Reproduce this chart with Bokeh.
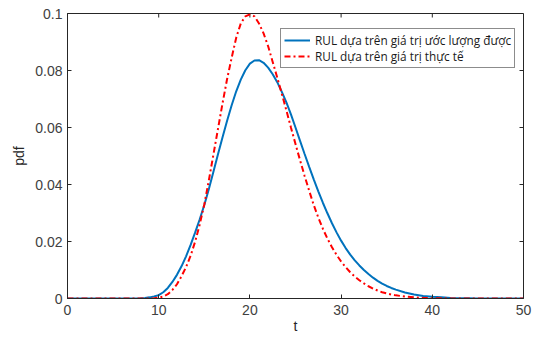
from bokeh.plotting import figure
from bokeh.models import Legend, LegendItem, FixedTicker, Range1d
from bokeh.embed import file_html
from bokeh.resources import INLINE

# ---- data ----
# sample positions: whole units in the flat tails, half units where the curves bend
t = [0, 1, 2, 3, 4, 5, 6, 7, 8,
     8.5, 9, 9.5, 10, 10.5, 11, 11.5, 12, 12.5, 13,
     13.5, 14, 14.5, 15, 15.5, 16, 16.5, 17, 17.5, 18,
     18.5, 19, 19.5, 20, 20.5, 21, 21.5, 22, 22.5, 23,
     23.5, 24, 24.5, 25, 25.5, 26, 26.5, 27, 27.5, 28,
     28.5, 29, 29.5, 30, 30.5, 31, 31.5, 32, 32.5, 33,
     33.5, 34, 34.5, 35, 35.5, 36,
     37, 38, 39, 40, 41, 42, 43, 44, 45, 46, 47, 48, 49, 50]
pdf_estimated = [0, 0, 0, 0, 0, 0, 0, 0, 0.0001,
                 0.0002, 0.0004, 0.0007, 0.0012, 0.0022, 0.0037, 0.0058, 0.0083, 0.0113, 0.0148,
                 0.0188, 0.0232, 0.0278, 0.0328, 0.0384, 0.0445, 0.0506, 0.0566, 0.0624, 0.0678,
                 0.0727, 0.0768, 0.0801, 0.0824, 0.0835, 0.0836, 0.0827, 0.0810, 0.0787, 0.0759,
                 0.0725, 0.0688, 0.0646, 0.0600, 0.0553, 0.0507, 0.0462, 0.0418, 0.0376, 0.0336,
                 0.0299, 0.0264, 0.0232, 0.0203, 0.0177, 0.0154, 0.0134, 0.0116, 0.0100, 0.0086,
                 0.0073, 0.0062, 0.0052, 0.0044, 0.0037, 0.0031,
                 0.0021, 0.0014, 0.0009, 0.0006, 0.0004, 0.0002, 0.0001, 0.0001, 0, 0, 0, 0, 0, 0]
pdf_actual = [0, 0, 0, 0, 0, 0, 0, 0, 0,
              0, 0, 0.0001, 0.0003, 0.0007, 0.0015, 0.0030, 0.0050, 0.0078, 0.0110,
              0.0150, 0.0200, 0.0260, 0.0330, 0.0415, 0.0505, 0.0595, 0.0685, 0.0770, 0.0845,
              0.0915, 0.0965, 0.0990, 0.0997, 0.0990, 0.0965, 0.0930, 0.0885, 0.0830, 0.0775,
              0.0718, 0.0660, 0.0600, 0.0542, 0.0485, 0.0430, 0.0378, 0.0328, 0.0284, 0.0245,
              0.0210, 0.0180, 0.0153, 0.0130, 0.0110, 0.0092, 0.0077, 0.0064, 0.0053, 0.0043,
              0.0035, 0.0028, 0.0022, 0.0018, 0.0014, 0.0011,
              0.0007, 0.0004, 0.0002, 0.0001, 0.0001, 0, 0, 0, 0, 0, 0, 0, 0, 0]
x_ticks = [0, 10, 20, 30, 40, 50]
y_ticks = [0, 0.02, 0.04, 0.06, 0.08, 0.1]
y_tick_labels = ["0", "0.02", "0.04", "0.06", "0.08", "0.1"]
labels = ["RUL dựa trên giá trị ước lượng được", "RUL dựa trên giá trị thực tế"]

X_MIN, X_MAX = 0, 50
Y_MIN, Y_MAX = 0, 0.1
AX = "#262626"
TICK_FONT = "Liberation Sans"

W, H = 539, 338
BL, BR, BT, BB = 67, 16, 13, 40
p = figure(width=W, height=H, output_backend="svg", toolbar_location=None,
           x_range=Range1d(X_MIN, X_MAX), y_range=Range1d(Y_MIN, Y_MAX),
           min_border_left=BL, min_border_right=BR, min_border_top=BT, min_border_bottom=BB)
p.background_fill_color = "white"
p.border_fill_color = "white"
p.outline_line_color = AX
p.outline_line_width = 1
p.grid.visible = False

TICK = 4
for ax in (p.xaxis[0], p.yaxis[0]):
    ax.major_tick_in = TICK
    ax.major_tick_out = 0
    ax.minor_tick_in = 0
    ax.minor_tick_out = 0
    ax.axis_line_color = AX
    ax.major_tick_line_color = AX
    ax.major_label_text_font = TICK_FONT
    ax.major_label_text_font_size = "14px"
    ax.major_label_text_color = "#404040"
    ax.axis_label_text_font = TICK_FONT
    ax.axis_label_text_font_size = "14px"
    ax.axis_label_text_font_style = "normal"
    ax.axis_label_text_color = "#262626"

p.xaxis[0].ticker = FixedTicker(ticks=x_ticks)
p.yaxis[0].ticker = FixedTicker(ticks=y_ticks)
p.yaxis[0].major_label_overrides = {v: s for v, s in zip(y_ticks, y_tick_labels)}
p.xaxis[0].axis_label = "t"
p.yaxis[0].axis_label = "pdf"
p.xaxis[0].major_label_standoff = 6
p.xaxis[0].axis_label_standoff = 0
p.yaxis[0].major_label_standoff = 5
p.yaxis[0].axis_label_standoff = 5

# mirrored inward ticks on the top and right edges of the box
frame_w = W - BL - BR
frame_h = H - BT - BB
dx = TICK * (X_MAX - X_MIN) / frame_w
dy = TICK * (Y_MAX - Y_MIN) / frame_h
p.segment(x0=x_ticks, y0=[Y_MAX] * len(x_ticks), x1=x_ticks, y1=[Y_MAX - dy] * len(x_ticks),
          line_color=AX, line_width=1)
p.segment(x0=[X_MAX] * len(y_ticks), y0=y_ticks, x1=[X_MAX - dx] * len(y_ticks), y1=y_ticks,
          line_color=AX, line_width=1)

r1 = p.line(t, pdf_estimated, line_color="#0072BD", line_width=2)
r2 = p.line(t, pdf_actual, line_color="#FF0000", line_width=2, line_dash="6 3 2 3")

legend = Legend(items=[LegendItem(label=labels[0], renderers=[r1]),
                       LegendItem(label=labels[1], renderers=[r2])],
                location=(213, 230))
legend.label_text_font = "Open Sans"
legend.label_text_font_size = "11.8px"
legend.label_text_color = "#1a1a1a"
legend.padding = 3
legend.spacing = 0
legend.label_height = 16
legend.glyph_height = 16
legend.glyph_width = 26
legend.label_standoff = 5
legend.border_line_color = "#1a1a1a"
legend.border_line_width = 1
legend.background_fill_color = "white"
legend.background_fill_alpha = 1
legend.margin = 0
p.add_layout(legend, "center")

open("out.html", "w").write(file_html(p, INLINE))
